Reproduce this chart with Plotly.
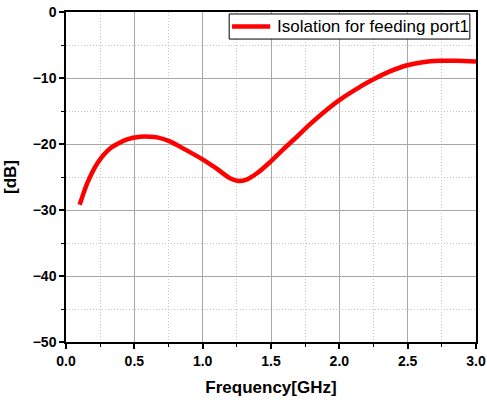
import plotly.graph_objects as go

freq_ghz = [0.10, 0.155, 0.23, 0.325, 0.447, 0.544, 0.617, 0.666, 0.76, 0.86, 1.005, 1.10, 1.20, 1.26, 1.32, 1.40, 1.49, 1.59, 1.69, 1.77, 1.88, 2.00, 2.13, 2.25, 2.37, 2.49, 2.61, 2.73, 2.86, 3.00]
isolation_db = [-29.2, -25.95, -22.9, -20.65, -19.3, -18.9, -18.9, -19.0, -19.6, -20.7, -22.4, -23.7, -25.2, -25.6, -25.4, -24.4, -22.8, -20.8, -18.9, -17.3, -15.3, -13.35, -11.6, -10.2, -9.0, -8.1, -7.6, -7.4, -7.4, -7.5]

series_name = "Isolation for feeding port1"
x_title = "Frequency[GHz]"
y_title = "[dB]"

font_family = "Liberation Sans, Arial, sans-serif"
line_color = "#ff0000"

fig = go.Figure()
fig.add_trace(go.Scatter(
    x=freq_ghz, y=isolation_db, mode="lines", name=series_name,
    line=dict(color=line_color, width=4.5, shape="spline", smoothing=0.7),
    showlegend=False,
))

axis_common = dict(
    showline=True, linecolor="black", linewidth=1.5, mirror=True,
    ticks="outside", ticklen=5, tickwidth=1.5, tickcolor="black",
    showgrid=True, gridcolor="#a8a8a8", gridwidth=1.2,
    zeroline=False, automargin=False,
    tickfont=dict(family=font_family, size=14, color="black", weight="bold"),
)

minor_common = dict(ticks="outside", ticklen=3, tickcolor="black", tickwidth=1,
                    showgrid=True, gridcolor="#c4c4c4", griddash="1px,2px", gridwidth=1)

fig.update_xaxes(
    range=[0, 3], tick0=0, dtick=0.5, tickformat=".1f",
    minor=dict(dtick=0.25, **minor_common),
    title=dict(text=x_title, font=dict(family=font_family, size=17, color="black", weight="bold"), standoff=14),
    **axis_common,
)
fig.update_yaxes(
    range=[-50, 0], tick0=0, dtick=10,
    minor=dict(dtick=5, **minor_common),
    title=dict(text=y_title, font=dict(family=font_family, size=17, color="black", weight="bold"), standoff=12),
    **axis_common,
)

# Manual legend box (layout element, in plot-area paper coordinates)
fig.add_shape(type="rect", xref="paper", yref="paper", x0=0.398, x1=0.985, y0=0.918, y1=0.994,
              line=dict(color="black", width=1), fillcolor="white", layer="above")
fig.add_shape(type="line", xref="paper", yref="paper", x0=0.405, x1=0.498, y0=0.956, y1=0.956,
              line=dict(color=line_color, width=4.5), layer="above")
fig.add_annotation(xref="paper", yref="paper", x=0.509, y=0.956, xanchor="left", yanchor="middle",
                   text=series_name, showarrow=False,
                   font=dict(family=font_family, size=17, color="black"))

fig.update_layout(
    width=487, height=403,
    margin=dict(l=66, r=11, t=12, b=61, autoexpand=False),
    plot_bgcolor="white", paper_bgcolor="white",
    showlegend=False,
)

fig.write_html("out.html", config={"displayModeBar": False},
               post_script="document.body.style.margin='0px';document.body.style.padding='0px';")
